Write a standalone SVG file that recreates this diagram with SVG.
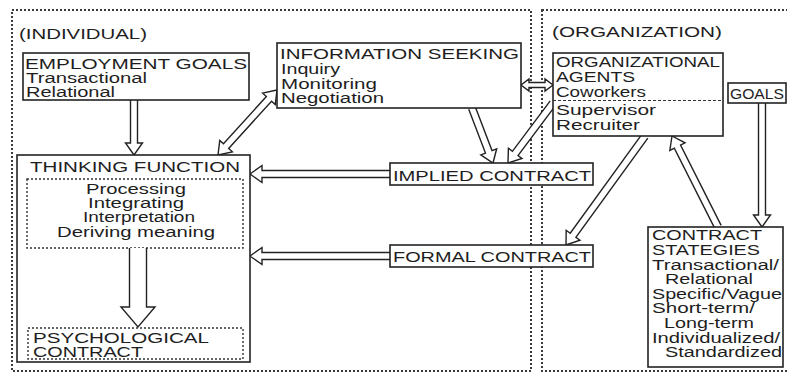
<svg xmlns="http://www.w3.org/2000/svg" width="787" height="373" viewBox="0 0 787 373">
<style>
text{font-family:"Liberation Sans",Arial,sans-serif;font-size:15.5px;fill:#1e1e1e}
.frame{fill:none;stroke:#3a3a3a;stroke-width:2;stroke-dasharray:2 2}
.box{fill:#fff;stroke:#222;stroke-width:1.6}
.dbox{fill:none;stroke:#333;stroke-width:1.4;stroke-dasharray:2 2}
.arr{fill:#fff;stroke:#222;stroke-width:1.4;stroke-linejoin:miter}
</style>
<rect width="787" height="373" fill="#fff"/>
<g id="frame-individual">
<rect class="frame" x="12" y="10" width="519" height="361"/>
<text x="19" y="39" textLength="128" lengthAdjust="spacingAndGlyphs">(INDIVIDUAL)</text>
</g>
<g id="frame-organization">
<rect class="frame" x="542" y="10" width="262" height="361"/>
<text x="552" y="37" textLength="170" lengthAdjust="spacingAndGlyphs">(ORGANIZATION)</text>
</g>
<g id="connectors">
<path class="arr" transform="translate(134,100) rotate(90)" d="M0,-3.5 H43 V-8.5 L55,0 L43,8.5 V3.5 H0"/>
<path class="arr" transform="translate(218,155) rotate(-47.77)" d="M0,0 L12,-8.5 V-3.5 H75.8 V-8.5 L87.8,0 L75.8,8.5 V3.5 H12 V8.5 Z"/>
<path class="arr" transform="translate(521,85)" d="M0,0 L8,-6 V-2.5 H24 V-6 L32,0 L24,6 V2.5 H8 V6 Z"/>
<path class="arr" transform="translate(472,108) rotate(69.1)" d="M0,-3.5 H46.9 V-8.5 L58.9,0 L46.9,8.5 V3.5 H0"/>
<path class="arr" transform="translate(553,103) rotate(126.87)" d="M0,-3.5 H63 V-8.5 L75,0 L63,8.5 V3.5 H0"/>
<path class="arr" transform="translate(390,174) rotate(180)" d="M0,-3.5 H128 V-8.5 L140,0 L128,8.5 V3.5 H0"/>
<path class="arr" transform="translate(390,256) rotate(180)" d="M0,-3.5 H128 V-8.5 L140,0 L128,8.5 V3.5 H0"/>
<path class="arr" transform="translate(645,136) rotate(125.93)" d="M0,-3.5 H122.6 V-8.5 L134.6,0 L122.6,8.5 V3.5 H0"/>
<path class="arr" transform="translate(718,227) rotate(-116.8)" d="M0,-3.5 H90 V-8.5 L102,0 L90,8.5 V3.5 H0"/>
<path class="arr" transform="translate(762,103) rotate(90)" d="M0,-3.5 H112 V-8.5 L124,0 L112,8.5 V3.5 H0"/>
</g>
<g id="employment-goals">
<rect class="box" x="23" y="53" width="226" height="47"/>
<text x="25" y="69" textLength="222" lengthAdjust="spacingAndGlyphs">EMPLOYMENT GOALS</text>
<text x="26" y="83" textLength="121" lengthAdjust="spacingAndGlyphs">Transactional</text>
<text x="26" y="97" textLength="89" lengthAdjust="spacingAndGlyphs">Relational</text>
</g>
<g id="information-seeking">
<rect class="box" x="277" y="43" width="244" height="65"/>
<text x="280" y="59" textLength="239" lengthAdjust="spacingAndGlyphs">INFORMATION SEEKING</text>
<text x="281" y="74" textLength="59" lengthAdjust="spacingAndGlyphs">Inquiry</text>
<text x="281" y="88.5" textLength="96" lengthAdjust="spacingAndGlyphs">Monitoring</text>
<text x="281" y="103" textLength="103" lengthAdjust="spacingAndGlyphs">Negotiation</text>
</g>
<g id="organizational-agents">
<rect class="box" x="553" y="53" width="170" height="83"/>
<text x="556" y="67" textLength="164" lengthAdjust="spacingAndGlyphs">ORGANIZATIONAL</text>
<text x="556" y="82" textLength="79" lengthAdjust="spacingAndGlyphs">AGENTS</text>
<text x="556" y="97" textLength="90" lengthAdjust="spacingAndGlyphs">Coworkers</text>
<line x1="553" y1="100.5" x2="723" y2="100.5" stroke="#333" stroke-width="1.2" stroke-dasharray="3 2"/>
<text x="556" y="115" textLength="100" lengthAdjust="spacingAndGlyphs">Supervisor</text>
<text x="556" y="130" textLength="84" lengthAdjust="spacingAndGlyphs">Recruiter</text>
</g>
<g id="goals">
<rect class="box" x="728" y="83" width="58" height="20"/>
<text x="730" y="99" textLength="54" lengthAdjust="spacingAndGlyphs">GOALS</text>
</g>
<g id="thinking-function">
<rect class="box" x="17" y="155" width="233" height="207" fill="none"/>
<text x="30" y="172" textLength="210" lengthAdjust="spacingAndGlyphs">THINKING FUNCTION</text>
<rect class="dbox" x="27" y="179" width="216" height="69"/>
<text x="136" y="194" text-anchor="middle" textLength="100" lengthAdjust="spacingAndGlyphs">Processing</text>
<text x="136" y="208" text-anchor="middle" textLength="96" lengthAdjust="spacingAndGlyphs">Integrating</text>
<text x="139" y="222" text-anchor="middle" textLength="112" lengthAdjust="spacingAndGlyphs">Interpretation</text>
<text x="136" y="237" text-anchor="middle" textLength="158" lengthAdjust="spacingAndGlyphs">Deriving meaning</text>
<path class="arr" transform="translate(138,248) rotate(90)" d="M0,-8.5 H59 V-17 L79,0 L59,17 V8.5 H0"/>
</g>
<g id="psychological-contract">
<rect class="dbox" x="28" y="328" width="215" height="31"/>
<text x="33" y="343" textLength="176" lengthAdjust="spacingAndGlyphs">PSYCHOLOGICAL</text>
<text x="33" y="357" textLength="110" lengthAdjust="spacingAndGlyphs">CONTRACT</text>
</g>
<g id="implied-contract">
<rect class="box" x="390" y="163" width="203" height="22"/>
<text x="393" y="181" textLength="198" lengthAdjust="spacingAndGlyphs">IMPLIED CONTRACT</text>
</g>
<g id="formal-contract">
<rect class="box" x="390" y="245" width="203" height="22"/>
<text x="393" y="262" textLength="198" lengthAdjust="spacingAndGlyphs">FORMAL CONTRACT</text>
</g>
<g id="contract-strategies">
<rect class="box" x="648" y="227" width="135" height="140"/>
<text x="652" y="240" textLength="110" lengthAdjust="spacingAndGlyphs">CONTRACT</text>
<text x="652" y="255" textLength="108" lengthAdjust="spacingAndGlyphs">STATEGIES</text>
<text x="652" y="270" textLength="127" lengthAdjust="spacingAndGlyphs">Transactional/</text>
<text x="665" y="284" textLength="88" lengthAdjust="spacingAndGlyphs">Relational</text>
<text x="652" y="299" textLength="130" lengthAdjust="spacingAndGlyphs">Specific/Vague</text>
<text x="652" y="313" textLength="103" lengthAdjust="spacingAndGlyphs">Short-term/</text>
<text x="664" y="328" textLength="90" lengthAdjust="spacingAndGlyphs">Long-term</text>
<text x="652" y="343" textLength="128" lengthAdjust="spacingAndGlyphs">Individualized/</text>
<text x="665" y="357" textLength="117" lengthAdjust="spacingAndGlyphs">Standardized</text>
</g>
</svg>
